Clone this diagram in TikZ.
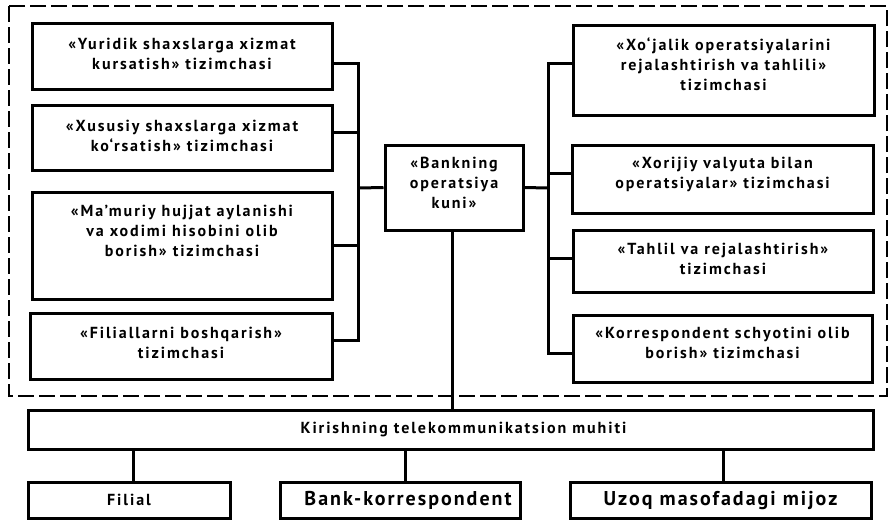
\documentclass[tikz,border=0pt]{standalone}
\usepackage{fontspec}
\setmainfont{PT Sans}[LetterSpace=12]
\newfontfamily\leaffont{PT Sans}[LetterSpace=10]
\begin{document}
\begin{tikzpicture}[x=1pt,y=-1pt,
  sub/.style={draw, line width=3pt, align=center, inner sep=2pt,
    font=\bfseries\fontsize{16}{20}\selectfont},
  blk/.style={sub, text depth=#1},
  blk/.default=12pt,
  leaf/.style={sub, font=\leaffont\bfseries\fontsize{20}{22}\selectfont},
  link/.style={line width=3pt},
  frame/.style={line width=2.2pt, dash pattern=on 16pt off 5pt}]
\useasboundingbox (0,0) rectangle (890,520);

% dashed border of the operational-day system
\draw[frame] (9,6) rectangle (887,396);

% left column of subsystems
\node[blk=4pt, minimum width=300pt, minimum height=66pt] (L1) at (182,56)
  {«Yuridik shaxslarga xizmat\\kursatish» tizimchasi};
\node[blk=4pt, minimum width=300pt, minimum height=65pt] (L2) at (182,137.5)
  {«Xususiy shaxslarga xizmat\\ko‘rsatish» tizimchasi};
\node[blk=9pt, minimum width=300pt, minimum height=107pt] (L3) at (182,245.5)
  {«Ma’muriy hujjat aylanishi\\va xodimi hisobini olib\\borish» tizimchasi\\\strut};
\node[blk=6pt, minimum width=302pt, minimum height=66pt] (L4) at (181,346)
  {«Filiallarni boshqarish»\\tizimchasi};

% central node
\node[blk=9pt, minimum width=138pt, minimum height=85pt] (C) at (454,187.5)
  {«Bankning\\operatsiya\\kuni»};

% right column of subsystems
\node[blk, minimum width=301pt, minimum height=90pt] (R1) at (723.5,70)
  {«Xo‘jalik operatsiyalarini\\rejalashtirish va tahlili»\\tizimchasi};
\node[blk, minimum width=301pt, minimum height=68pt] (R2) at (722.5,179)
  {«Xorijiy valyuta bilan\\operatsiyalar» tizimchasi};
\node[blk=4pt, minimum width=300pt, minimum height=62pt] (R3) at (723,261)
  {«Tahlil va rejalashtirish»\\tizimchasi};
\node[blk, minimum width=299pt, minimum height=67pt] (R4) at (722.5,348.5)
  {«Korrespondent schyotini olib\\borish» tizimchasi};

% telecommunication access layer and its clients
\node[sub, minimum width=845pt, minimum height=39pt] (K) at (450.5,429.5)
  {\hspace*{26pt}Kirishning telekommunikatsion muhiti};
\node[sub, minimum width=202pt, minimum height=36pt] (F) at (129,500) {Filial};
\node[leaf, minimum width=240pt, minimum height=36pt] (B) at (400,500)
  {\hspace*{16pt}Bank-korrespondent};
\node[leaf, minimum width=301pt, minimum height=36pt] (U) at (720.5,500) {Uzoq masofadagi mijoz};

% buses
\coordinate (lbus) at (358,188);
\coordinate (rbus) at (548,188);

\draw[link] ([yshift=-7pt]L1.east) -| (lbus) |- ([yshift=6pt]L4.east);
\draw[link] ([yshift=5.5pt]L2.east) coordinate (l2) -- (l2 -| lbus);
\draw[link] (L3.east) -- (L3.east -| lbus);
\draw[link] (lbus) -- (C.west);

\draw[link] (C.east) -- (rbus);
\draw[link] ([yshift=7pt]R1.west) -| (rbus) |- ([yshift=-4.5pt]R4.west);
\draw[link] ([yshift=6pt]R2.west) coordinate (r2) -- (r2 -| rbus);
\draw[link] ([yshift=3pt]R3.west) coordinate (r3) -- (r3 -| rbus);

\draw[link] ([xshift=-2pt]C.south) coordinate (cd) -- (cd |- K.north);
\draw[link] ([xshift=4pt]F.north) coordinate (f) -- (f |- K.south);
\draw[link] ([xshift=5pt]B.north) coordinate (b) -- (b |- K.south);
\draw[link] ([xshift=2.5pt]U.north) coordinate (u) -- (u |- K.south);
\end{tikzpicture}
\end{document}
